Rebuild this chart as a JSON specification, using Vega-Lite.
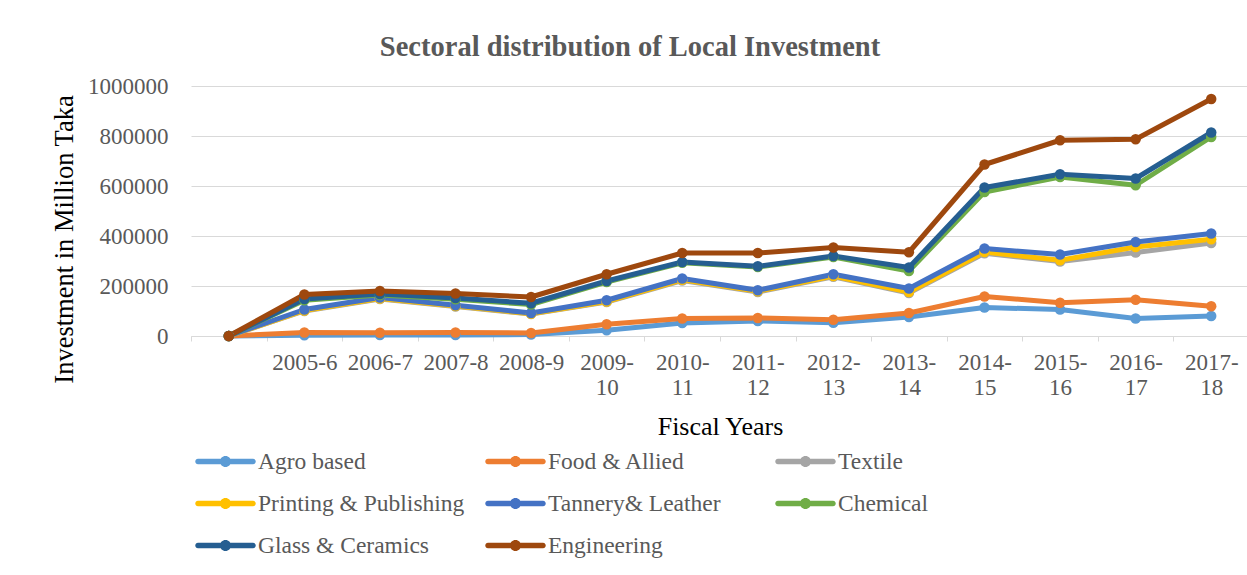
{
  "$schema": "https://vega.github.io/schema/vega-lite/v6.json",
  "width": 1058,
  "height": 250,
  "autosize": {"type": "none"},
  "padding": {"left": 191, "top": 86, "right": 0, "bottom": 239},
  "background": "white",
  "config": {
    "view": {"stroke": null},
    "font": "Liberation Serif",
    "legend": {"rowPadding": 3}
  },
  "title": {
    "text": "Sectoral distribution of Local Investment",
    "font": "Liberation Serif",
    "fontSize": 28.5,
    "fontWeight": "bold",
    "color": "#595959",
    "anchor": "middle",
    "dx": -90,
    "offset": 14
  },
  "data": {
    "values": [
      {"year": " ", "sector": "Agro based", "value": 0},
      {"year": "2005-6", "sector": "Agro based", "value": 3000},
      {"year": "2006-7", "sector": "Agro based", "value": 4000},
      {"year": "2007-8", "sector": "Agro based", "value": 4000},
      {"year": "2008-9", "sector": "Agro based", "value": 6000},
      {"year": "2009-10", "sector": "Agro based", "value": 23000},
      {"year": "2010-11", "sector": "Agro based", "value": 52000},
      {"year": "2011-12", "sector": "Agro based", "value": 60000},
      {"year": "2012-13", "sector": "Agro based", "value": 53000},
      {"year": "2013-14", "sector": "Agro based", "value": 76000},
      {"year": "2014-15", "sector": "Agro based", "value": 114000},
      {"year": "2015-16", "sector": "Agro based", "value": 106000},
      {"year": "2016-17", "sector": "Agro based", "value": 70000},
      {"year": "2017-18", "sector": "Agro based", "value": 80000},
      {"year": " ", "sector": "Food & Allied", "value": 0},
      {"year": "2005-6", "sector": "Food & Allied", "value": 14000},
      {"year": "2006-7", "sector": "Food & Allied", "value": 13000},
      {"year": "2007-8", "sector": "Food & Allied", "value": 14000},
      {"year": "2008-9", "sector": "Food & Allied", "value": 12000},
      {"year": "2009-10", "sector": "Food & Allied", "value": 47000},
      {"year": "2010-11", "sector": "Food & Allied", "value": 70000},
      {"year": "2011-12", "sector": "Food & Allied", "value": 72000},
      {"year": "2012-13", "sector": "Food & Allied", "value": 65000},
      {"year": "2013-14", "sector": "Food & Allied", "value": 92000},
      {"year": "2014-15", "sector": "Food & Allied", "value": 158000},
      {"year": "2015-16", "sector": "Food & Allied", "value": 133000},
      {"year": "2016-17", "sector": "Food & Allied", "value": 145000},
      {"year": "2017-18", "sector": "Food & Allied", "value": 119000},
      {"year": " ", "sector": "Textile", "value": 0},
      {"year": "2005-6", "sector": "Textile", "value": 100000},
      {"year": "2006-7", "sector": "Textile", "value": 148000},
      {"year": "2007-8", "sector": "Textile", "value": 118000},
      {"year": "2008-9", "sector": "Textile", "value": 88000},
      {"year": "2009-10", "sector": "Textile", "value": 136000},
      {"year": "2010-11", "sector": "Textile", "value": 222000},
      {"year": "2011-12", "sector": "Textile", "value": 176000},
      {"year": "2012-13", "sector": "Textile", "value": 237000},
      {"year": "2013-14", "sector": "Textile", "value": 172000},
      {"year": "2014-15", "sector": "Textile", "value": 331000},
      {"year": "2015-16", "sector": "Textile", "value": 298000},
      {"year": "2016-17", "sector": "Textile", "value": 334000},
      {"year": "2017-18", "sector": "Textile", "value": 372000},
      {"year": " ", "sector": "Printing & Publishing", "value": 0},
      {"year": "2005-6", "sector": "Printing & Publishing", "value": 102000},
      {"year": "2006-7", "sector": "Printing & Publishing", "value": 150000},
      {"year": "2007-8", "sector": "Printing & Publishing", "value": 120000},
      {"year": "2008-9", "sector": "Printing & Publishing", "value": 89000},
      {"year": "2009-10", "sector": "Printing & Publishing", "value": 138000},
      {"year": "2010-11", "sector": "Printing & Publishing", "value": 225000},
      {"year": "2011-12", "sector": "Printing & Publishing", "value": 179000},
      {"year": "2012-13", "sector": "Printing & Publishing", "value": 240000},
      {"year": "2013-14", "sector": "Printing & Publishing", "value": 176000},
      {"year": "2014-15", "sector": "Printing & Publishing", "value": 336000},
      {"year": "2015-16", "sector": "Printing & Publishing", "value": 303000},
      {"year": "2016-17", "sector": "Printing & Publishing", "value": 356000},
      {"year": "2017-18", "sector": "Printing & Publishing", "value": 387000},
      {"year": " ", "sector": "Tannery& Leather", "value": 0},
      {"year": "2005-6", "sector": "Tannery& Leather", "value": 106000},
      {"year": "2006-7", "sector": "Tannery& Leather", "value": 154000},
      {"year": "2007-8", "sector": "Tannery& Leather", "value": 123000},
      {"year": "2008-9", "sector": "Tannery& Leather", "value": 92000},
      {"year": "2009-10", "sector": "Tannery& Leather", "value": 143000},
      {"year": "2010-11", "sector": "Tannery& Leather", "value": 230000},
      {"year": "2011-12", "sector": "Tannery& Leather", "value": 183000},
      {"year": "2012-13", "sector": "Tannery& Leather", "value": 247000},
      {"year": "2013-14", "sector": "Tannery& Leather", "value": 190000},
      {"year": "2014-15", "sector": "Tannery& Leather", "value": 350000},
      {"year": "2015-16", "sector": "Tannery& Leather", "value": 326000},
      {"year": "2016-17", "sector": "Tannery& Leather", "value": 376000},
      {"year": "2017-18", "sector": "Tannery& Leather", "value": 410000},
      {"year": " ", "sector": "Chemical", "value": 0},
      {"year": "2005-6", "sector": "Chemical", "value": 143000},
      {"year": "2006-7", "sector": "Chemical", "value": 164000},
      {"year": "2007-8", "sector": "Chemical", "value": 147000},
      {"year": "2008-9", "sector": "Chemical", "value": 126000},
      {"year": "2009-10", "sector": "Chemical", "value": 216000},
      {"year": "2010-11", "sector": "Chemical", "value": 293000},
      {"year": "2011-12", "sector": "Chemical", "value": 276000},
      {"year": "2012-13", "sector": "Chemical", "value": 316000},
      {"year": "2013-14", "sector": "Chemical", "value": 260000},
      {"year": "2014-15", "sector": "Chemical", "value": 576000},
      {"year": "2015-16", "sector": "Chemical", "value": 636000},
      {"year": "2016-17", "sector": "Chemical", "value": 603000},
      {"year": "2017-18", "sector": "Chemical", "value": 796000},
      {"year": " ", "sector": "Glass & Ceramics", "value": 0},
      {"year": "2005-6", "sector": "Glass & Ceramics", "value": 148000},
      {"year": "2006-7", "sector": "Glass & Ceramics", "value": 168000},
      {"year": "2007-8", "sector": "Glass & Ceramics", "value": 152000},
      {"year": "2008-9", "sector": "Glass & Ceramics", "value": 131000},
      {"year": "2009-10", "sector": "Glass & Ceramics", "value": 220000},
      {"year": "2010-11", "sector": "Glass & Ceramics", "value": 296000},
      {"year": "2011-12", "sector": "Glass & Ceramics", "value": 279000},
      {"year": "2012-13", "sector": "Glass & Ceramics", "value": 320000},
      {"year": "2013-14", "sector": "Glass & Ceramics", "value": 274000},
      {"year": "2014-15", "sector": "Glass & Ceramics", "value": 594000},
      {"year": "2015-16", "sector": "Glass & Ceramics", "value": 647000},
      {"year": "2016-17", "sector": "Glass & Ceramics", "value": 630000},
      {"year": "2017-18", "sector": "Glass & Ceramics", "value": 814000},
      {"year": " ", "sector": "Engineering", "value": 0},
      {"year": "2005-6", "sector": "Engineering", "value": 166000},
      {"year": "2006-7", "sector": "Engineering", "value": 180000},
      {"year": "2007-8", "sector": "Engineering", "value": 170000},
      {"year": "2008-9", "sector": "Engineering", "value": 156000},
      {"year": "2009-10", "sector": "Engineering", "value": 247000},
      {"year": "2010-11", "sector": "Engineering", "value": 332000},
      {"year": "2011-12", "sector": "Engineering", "value": 332000},
      {"year": "2012-13", "sector": "Engineering", "value": 354000},
      {"year": "2013-14", "sector": "Engineering", "value": 335000},
      {"year": "2014-15", "sector": "Engineering", "value": 686000},
      {"year": "2015-16", "sector": "Engineering", "value": 783000},
      {"year": "2016-17", "sector": "Engineering", "value": 787000},
      {"year": "2017-18", "sector": "Engineering", "value": 948000}
    ]
  },
  "mark": {
    "type": "line",
    "strokeWidth": 5,
    "strokeCap": "round",
    "strokeJoin": "round",
    "point": {"filled": true, "size": 110, "opacity": 1}
  },
  "encoding": {
    "x": {
      "field": "year",
      "type": "ordinal",
      "bandPosition": 0.5,
      "sort": [" ", "2005-6", "2006-7", "2007-8", "2008-9", "2009-10", "2010-11", "2011-12", "2012-13", "2013-14", "2014-15", "2015-16", "2016-17", "2017-18"],
      "scale": {"type": "band", "paddingInner": 0, "paddingOuter": 0},
      "axis": {
        "title": "Fiscal Years",
        "titleFont": "Liberation Serif",
        "titleFontSize": 26,
        "titleFontWeight": "normal",
        "titleColor": "#000000",
        "titlePadding": 14,
        "labelFont": "Liberation Serif",
        "labelFontSize": 23,
        "labelColor": "#595959",
        "labelAngle": 0,
        "labelPadding": 10,
        "labelLineHeight": 25,
        "labelExpr": "length(datum.label) > 6 ? [slice(datum.label, 0, 5), slice(datum.label, 5)] : datum.label",
        "tickBand": "extent",
        "tickSize": 5,
        "tickColor": "#d9d9d9",
        "domainColor": "#d9d9d9",
        "domainWidth": 1,
        "grid": false
      }
    },
    "y": {
      "field": "value",
      "type": "quantitative",
      "scale": {"domain": [0, 1000000], "nice": false},
      "axis": {
        "title": "Investment in Million Taka",
        "titleFont": "Liberation Serif",
        "titleFontSize": 26.5,
        "titleFontWeight": "normal",
        "titleColor": "#000000",
        "titleX": -127,
        "titleY": 153,
        "titleAngle": -90,
        "titleAlign": "center",
        "titleBaseline": "middle",
        "values": [0, 200000, 400000, 600000, 800000, 1000000],
        "format": "d",
        "labelFont": "Liberation Serif",
        "labelFontSize": 23,
        "labelColor": "#595959",
        "labelPadding": 23,
        "ticks": false,
        "domain": false,
        "grid": true,
        "gridColor": "#d9d9d9",
        "gridWidth": 1
      }
    },
    "color": {
      "field": "sector",
      "type": "nominal",
      "scale": {
        "domain": ["Agro based", "Food & Allied", "Textile", "Printing & Publishing", "Tannery& Leather", "Chemical", "Glass & Ceramics", "Engineering"],
        "range": ["#5B9BD5", "#ED7D31", "#A5A5A5", "#FFC000", "#4472C4", "#70AD47", "#255E91", "#9E480E"]
      },
      "legend": {
        "title": null,
        "orient": "none",
        "direction": "horizontal",
        "legendX": 7,
        "legendY": 348,
        "columns": 3,
        "gridAlign": "all",
        "columnPadding": 20,
        "rowPadding": 3,
        "symbolType": "M-1,-0.1 L1,-0.1 A0.1,0.1 0 0 1 1,0.1 L-1,0.1 A0.1,0.1 0 0 1 -1,-0.1 Z M-0.2,0 A0.2,0.2 0 1 1 0.2,0 A0.2,0.2 0 1 1 -0.2,0 Z",
        "symbolSize": 3025,
        "symbolStrokeWidth": 0,
        "labelOffset": 5,
        "labelFont": "Liberation Serif",
        "labelFontSize": 23.5,
        "labelColor": "#595959",
        "labelLimit": 0,
        "encode": {
          "symbols": {
            "update": {
              "fill": {"scale": "color", "field": "value"},
              "fillOpacity": {"value": 1},
              "opacity": {"value": 1}
            }
          }
        }
      }
    }
  }
}
